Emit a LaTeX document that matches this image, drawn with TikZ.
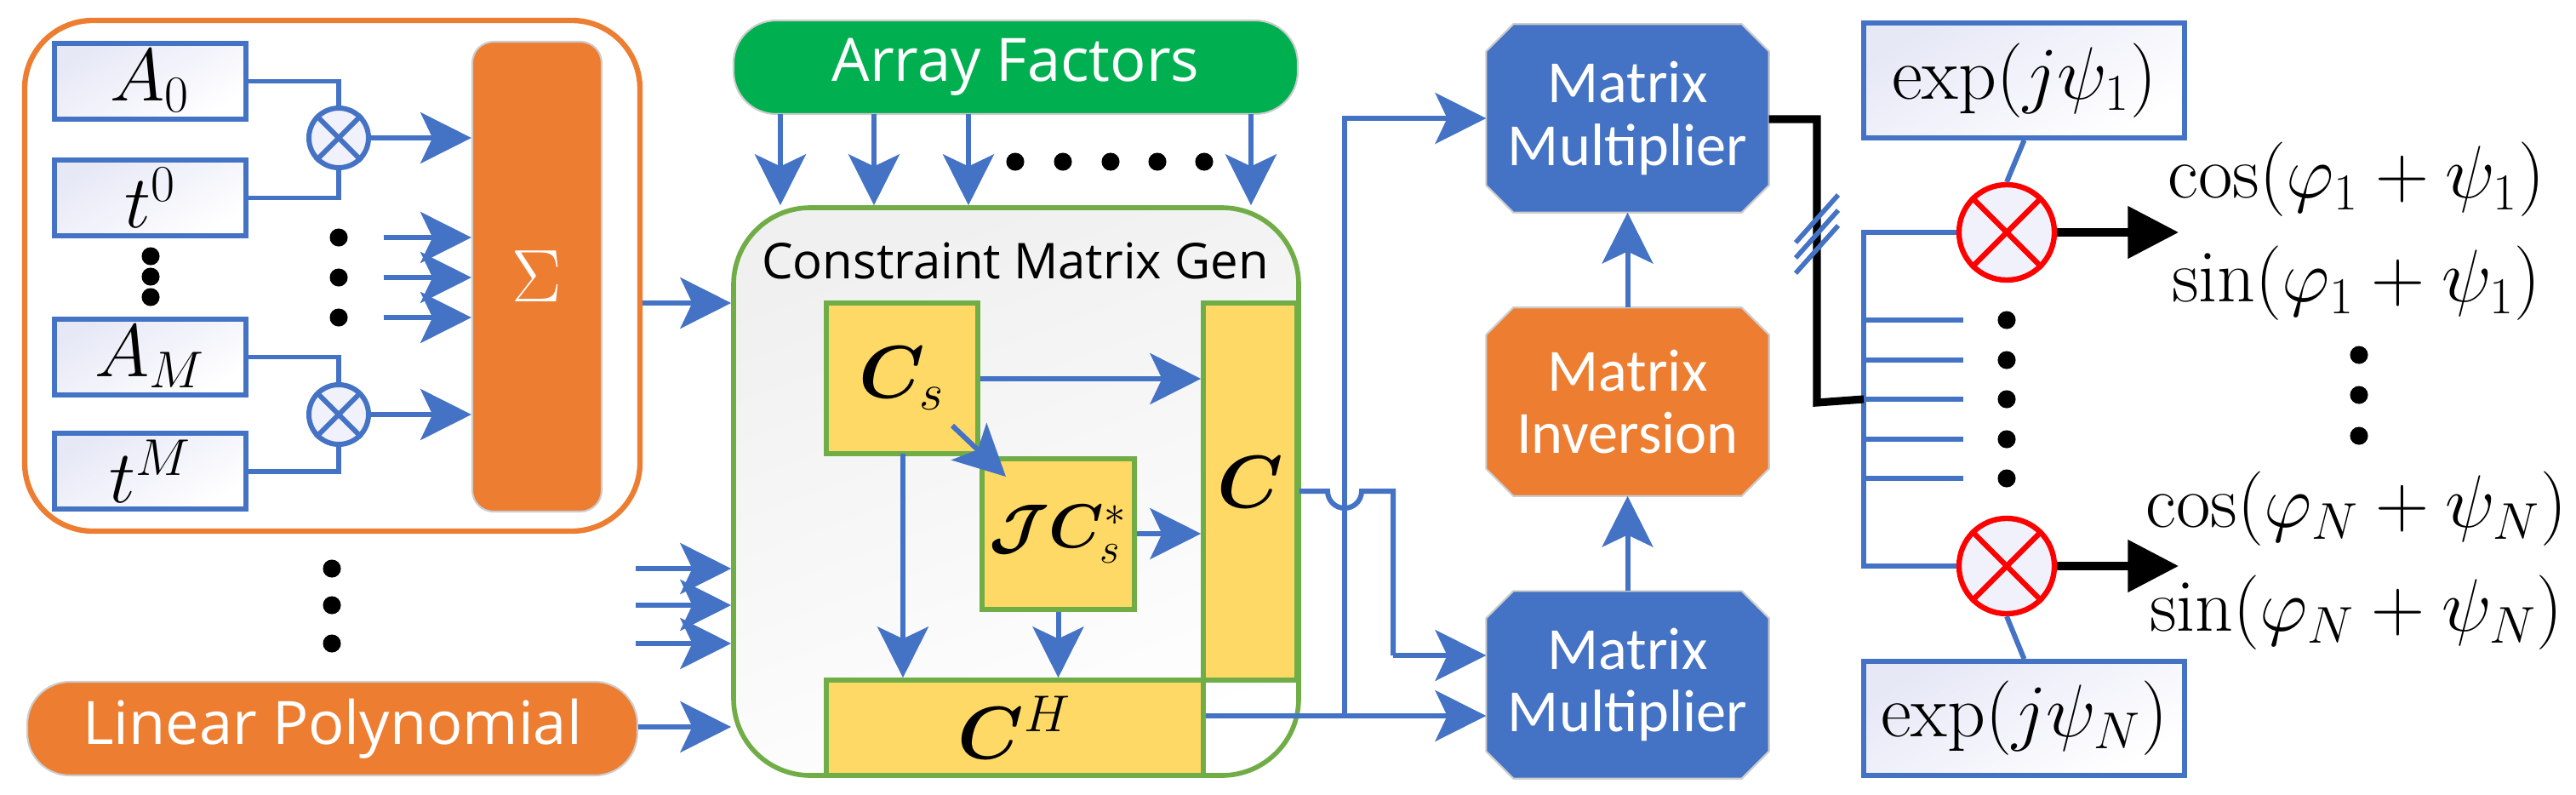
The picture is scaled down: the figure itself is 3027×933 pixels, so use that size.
\documentclass[tikz,border=0pt]{standalone}
\usepackage{bm}
\usepackage{fontspec}
\newfontfamily\uif{Open Sans}
\newfontfamily\narf{Carlito}
\usetikzlibrary{fit,arrows.meta}
\definecolor{bl}{HTML}{4472C4}
\definecolor{orn}{HTML}{ED7D31}
\definecolor{grn}{HTML}{00B050}
\definecolor{ylw}{HTML}{FFD966}
\definecolor{gbd}{HTML}{70AD47}
\definecolor{lav}{HTML}{E6E8F6}
\tikzset{
 box/.style={inner sep=0pt,draw=bl,line width=1.6pt,top color=lav,bottom color=white,shading angle=30},
 blk/.style={inner sep=0pt,draw=gbd,line width=1.6pt,fill=ylw},
 pill/.style={inner sep=0pt,rounded corners=0.5cm,draw=gray!40,line width=0.6pt},
 ptxt/.style={text=white,font=\uif\fontsize{20}{22}\selectfont},
 octt/.style={text=white,font=\narf\fontsize{20}{21}\selectfont,align=center},
 ln/.style={draw=bl,line width=1.7pt},
 arr/.style={ln,-{Stealth[length=17pt,width=17pt,inset=4pt]}},
 dot/.style={circle,fill=black,inner sep=0pt,minimum size=6pt},
 mul/.style={circle,draw=bl,line width=1.7pt,fill=lav!60,minimum size=0.7cm,inner sep=0pt},
 rmul/.style={circle,draw=red,line width=1.8pt,fill=lav!60,minimum size=1.12cm,inner sep=0pt},
 mt/.style={font=\fontsize{25}{27}\selectfont},
 big/.style={font=\fontsize{25}{27}\selectfont},
}
\newcommand\octo[3]{% name, fill, text
 \fill[#2,draw=gray!40,line width=0.6pt] ([xshift=0.32cm]#1.north west) -- ([xshift=-0.32cm]#1.north east) -- ([yshift=-0.32cm]#1.north east) -- ([yshift=0.32cm]#1.south east) -- ([xshift=-0.32cm]#1.south east) -- ([xshift=0.32cm]#1.south west) -- ([yshift=0.32cm]#1.south west) -- ([yshift=-0.32cm]#1.north west) -- cycle;
 \node[octt] at (#1) {#3};}
\begin{document}
\begin{tikzpicture}[x=0.01cm,y=-0.01cm]
\useasboundingbox (0,0) rectangle (3027,933);
% left group
\node[draw=orn,line width=1.8pt,rounded corners=0.8cm,fit={(29,24)(752,624)},inner sep=0pt] (grp) {};
\node[box,fit={(64,51)(289,140)}] (a0) {}; \node[mt] at (a0) {$A_0$};
\node[box,fit={(64,188)(289,277)}] (t0) {}; \node[mt] at (t0) {$t^0$};
\node[box,fit={(64,375)(289,464)}] (am) {}; \node[mt] at (am) {$A_M$};
\node[box,fit={(64,509)(289,598)}] (tm) {}; \node[mt] at (tm) {$t^M$};
\node[dot] (d1) at (177,301) {}; \node[dot] (d2) at (177,325) {}; \node[dot] (d3) at (177,349) {};
\node[mul] (m1) at (398,162) {};
\node[mul] (m2) at (398,487) {};
\foreach \m in {m1,m2}{\draw[bl,line width=1.7pt] (\m.45)--(\m.225) (\m.135)--(\m.315);}
\node[fill=orn,draw=gray!40,line width=0.6pt,rounded corners=0.25cm,inner sep=0pt,fit={(555,49)(707,601)}] (sig) {};
\node[text=white,font=\fontsize{32}{34}\selectfont] at (sig) {$\Sigma$};
\draw[ln] (a0.east) -| (m1.north);
\draw[ln] (t0.east) -| (m1.south);
\draw[ln] (am.east) -| (m2.north);
\draw[ln] (tm.east) -| (m2.south);
\draw[arr] (m1.east) -- (m1.east -| sig.west);
\draw[arr] (m2.east) -- (m2.east -| sig.west);
\foreach \y in {279,326,373}{
 \node[dot] at (398,\y) {};
 \coordinate (s\y) at (451,\y);
 \draw[arr] (s\y) -- (s\y -| sig.west);}
% lower left
\foreach \y in {668,711,756}{\node[dot] at (390,\y) {};}
\node[pill,fill=orn,fit={(32,801)(749,911)}] (lp) {}; \node[ptxt] at (lp) {Linear Polynomial};
% array factors
\node[pill,fill=grn,fit={(862,24)(1525,134)}] (af) {}; \node[ptxt] at (af) {Array Factors};
% container
\node[draw=gbd,line width=1.6pt,rounded corners=0.9cm,fit={(862,244)(1526,911)},inner sep=0pt,top color=gray!12,bottom color=white,shading angle=20] (cmg) {};
\node[font=\uif\fontsize{16.5}{18}\selectfont] (cmgt) at (1193,306) {Constraint Matrix Gen};
\foreach \x in {917,1027,1138,1470}{\coordinate (af\x) at (\x,134); \draw[arr] (af\x) -- (af\x |- cmg.north);}
\foreach \x in {1193,1249,1305,1360,1415}{\node[dot] at (\x,190) {};}
\draw[arr] (grp.east |- 0,356) coordinate (g1) -- (g1 -| cmg.west);
\foreach \y in {668,711,756}{\coordinate (l\y) at (747,\y); \draw[arr] (l\y) -- (l\y -| cmg.west);}
\draw[arr] (lp.east |- 0,854) coordinate (g2) -- (g2 -| cmg.west);
% inner blocks
\node[blk,fit={(971,356)(1149,533)}] (cs) {}; \node[mt] at (cs) {$\bm{C}_s$};
\node[blk,fit={(1154,539)(1333,716)}] (jc) {}; \node[font=\fontsize{21}{23}\selectfont] at (jc) {$\bm{\mathcal{J}}\bm{C}_s^*$};
\node[blk,fit={(1414,356)(1524,799)}] (c) {};
\node[mt] at (1469,566) {$\bm{C}$};
\node[blk,fit={(971,799)(1414,911)}] (ch) {}; \node[mt] at (ch) {$\bm{C}^H$};
\draw[arr] (cs.east |- 0,445) coordinate (c1) -- (c1 -| c.west);
\draw[arr] (jc.east |- 0,627) coordinate (c2) -- (c2 -| c.west);
\coordinate (c3) at (1119,500); \coordinate (c3e) at (1182,560);
\draw[arr] (c3) -- (c3e);
\draw[arr] (1061,533) coordinate (c4) -- (c4 |- ch.north);
\draw[arr] (jc.south) -- (jc.south |- ch.north);
% right column
\node[inner sep=0pt,fit={(1747,29)(2078,249)}] (mm1) {}; \octo{mm1}{bl}{Matrix\\Multiplier}
\node[inner sep=0pt,fit={(1747,362)(2078,582)}] (inv) {}; \octo{inv}{orn}{Matrix\\Inversion}
\node[inner sep=0pt,fit={(1747,695)(2078,914)}] (mm2) {}; \octo{mm2}{bl}{Matrix\\Multiplier}
\draw[arr] (inv.north) -- (mm1.south);
\draw[arr] (mm2.north) -- (inv.south);
\coordinate (jn) at (1580,841);
\draw[ln] (ch.east |- jn) -- (jn);
\draw[arr] (jn) -- (mm2.west |- jn);
\draw[arr] (jn) |- (mm1.west |- 0,139);
\draw[ln] (c.east |- 0,577) -- (1560,577) arc[start angle=180,end angle=0,radius=20] -- (1637,577) -- (1637,770) coordinate (c5);
\draw[arr] (c5) -- (c5 -| mm2.west);
% bus
\node[box,fit={(2190,27)(2567,162)}] (e1) {}; \node[big] at (e1) {$\exp(j\psi_1)$};
\node[box,fit={(2190,777)(2567,911)}] (en) {}; \node[big] at (en) {$\exp(j\psi_N)$};
\node[rmul] (r1) at (2358,273) {};
\node[rmul] (rn) at (2358,665) {};
\foreach \m in {r1,rn}{\draw[red,line width=1.8pt] (\m.45)--(\m.225) (\m.135)--(\m.315);}
\draw[ln] (e1.south) -- (r1.north);
\draw[ln] (en.north) -- (rn.south);
\draw[ln] (r1.west) -| (2190,469) coordinate (bj) |- (rn.west);
\foreach \y in {376,423,469,516,562}{\coordinate (b\y) at (2190,\y); \draw[ln] (b\y) -- (2307,\y); \node[dot] at (2358,\y) {};}
\draw[black,line width=2.6pt] (mm1.east |- 0,140) -| (2135,473) -- (bj);
\foreach \d in {-18,0,18}{\draw[bl,line width=1.6pt] (2135-25,275+\d+28) -- (2135+25,275+\d-28);}
\draw[black,line width=2.6pt,-{Triangle[length=17pt,width=17pt]}] (r1.east) -- (2560,273);
\draw[black,line width=2.6pt,-{Triangle[length=17pt,width=17pt]}] (rn.east) -- (2560,665);
\node[big] (o1) at (2769,211) {$\cos(\varphi_1+\psi_1)$};
\node[big] (o2) at (2769,333) {$\sin(\varphi_1+\psi_1)$};
\node[big] (o3) at (2769,598) {$\cos(\varphi_N+\psi_N)$};
\node[big] (o4) at (2769,720) {$\sin(\varphi_N+\psi_N)$};
\foreach \y in {417,464,512}{\node[dot] at (2772,\y) {};}
\end{tikzpicture}
\end{document}
